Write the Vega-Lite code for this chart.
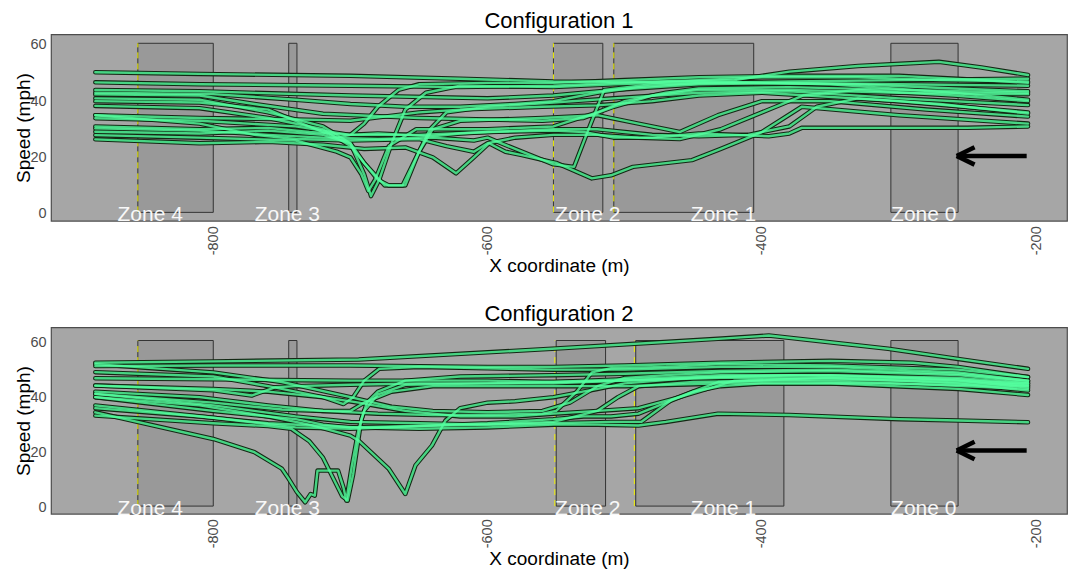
{
  "$schema": "https://vega.github.io/schema/vega-lite/v6.json",
  "padding": {"left": 13, "top": 9.3, "right": 0, "bottom": 0},
  "spacing": 25,
  "config": {
    "font": "Liberation Sans",
    "view": {"stroke": "#4d4d4d", "strokeWidth": 1.2, "fill": "#a6a6a6"},
    "axis": {"domain": false, "grid": false, "ticks": false, "labelColor": "#4d4d4d", "labelFontSize": 14.5, "titleFontSize": 19, "titleFontWeight": "normal", "titleColor": "black", "labelFont": "Liberation Sans", "titleFont": "Liberation Sans", "labelPadding": 5, "labelExpr": "'' + datum.value"},
    "title": {"fontSize": 22, "fontWeight": "normal", "font": "Liberation Sans", "color": "black", "offset": 1}
  },
  "datasets": {
    "zones": [
      {"p":1,"zone":"Zone 4","x1":-855,"x2":-800,"y1":0.4,"y2":60.6},
      {"p":1,"zone":"Zone 3","x1":-745,"x2":-739,"y1":0.4,"y2":60.6},
      {"p":1,"zone":"Zone 2","x1":-552,"x2":-516,"y1":0.4,"y2":60.6},
      {"p":1,"zone":"Zone 1","x1":-508,"x2":-406,"y1":0.4,"y2":60.6},
      {"p":1,"zone":"Zone 0","x1":-306,"x2":-257,"y1":0.4,"y2":60.6},
      {"p":2,"zone":"Zone 4","x1":-855,"x2":-800,"y1":0.4,"y2":60.6},
      {"p":2,"zone":"Zone 3","x1":-745,"x2":-739,"y1":0.4,"y2":60.6},
      {"p":2,"zone":"Zone 2","x1":-550,"x2":-514,"y1":0.4,"y2":60.6},
      {"p":2,"zone":"Zone 1","x1":-492,"x2":-384,"y1":0.4,"y2":60.6},
      {"p":2,"zone":"Zone 0","x1":-306,"x2":-257,"y1":0.4,"y2":60.6}
    ],
    "gates": [
      {"p":1,"x":-855,"y1":0.4,"y2":60.6},
      {"p":1,"x":-552,"y1":0.4,"y2":60.6},
      {"p":1,"x":-508,"y1":0.4,"y2":60.6},
      {"p":2,"x":-855,"y1":0.4,"y2":60.6},
      {"p":2,"x":-551,"y1":0.4,"y2":60.6},
      {"p":2,"x":-493,"y1":0.4,"y2":60.6}
    ],
    "labels": [
      {"p":1,"label":"Zone 4","x":-846,"y":0},
      {"p":1,"label":"Zone 3","x":-746,"y":0},
      {"p":1,"label":"Zone 2","x":-527,"y":0},
      {"p":1,"label":"Zone 1","x":-428,"y":0},
      {"p":1,"label":"Zone 0","x":-282,"y":0},
      {"p":2,"label":"Zone 4","x":-846,"y":0},
      {"p":2,"label":"Zone 3","x":-746,"y":0},
      {"p":2,"label":"Zone 2","x":-527,"y":0},
      {"p":2,"label":"Zone 1","x":-428,"y":0},
      {"p":2,"label":"Zone 0","x":-282,"y":0}
    ],
    "arrows": [
      {"p":1,"x":-207,"y":20.5,"x2":-258,"y2":20.5},
      {"p":1,"x":-258,"y":20.5,"x2":-245,"y2":23.6},
      {"p":1,"x":-258,"y":20.5,"x2":-245,"y2":17.4},
      {"p":2,"x":-207,"y":20.6,"x2":-258,"y2":20.6},
      {"p":2,"x":-258,"y":20.6,"x2":-245,"y2":23.8},
      {"p":2,"x":-258,"y":20.6,"x2":-245,"y2":17.4}
    ],
    "lines": [
      {"p":1,"id":"A1","x":-886,"y":50.3},{"p":1,"id":"A1","x":-810,"y":49.7},{"p":1,"id":"A1","x":-700,"y":49},{"p":1,"id":"A1","x":-620,"y":48},{"p":1,"id":"A1","x":-552,"y":47},{"p":1,"id":"A1","x":-480,"y":46.8},{"p":1,"id":"A1","x":-420,"y":47.5},{"p":1,"id":"A1","x":-380,"y":50.5},{"p":1,"id":"A1","x":-330,"y":52.5},{"p":1,"id":"A1","x":-271,"y":54},{"p":1,"id":"A1","x":-240,"y":52},{"p":1,"id":"A1","x":-206,"y":49.3},
      {"p":1,"id":"A2","x":-886,"y":46.7},{"p":1,"id":"A2","x":-810,"y":46},{"p":1,"id":"A2","x":-700,"y":45.5},{"p":1,"id":"A2","x":-620,"y":45},{"p":1,"id":"A2","x":-552,"y":45.5},{"p":1,"id":"A2","x":-508,"y":46.5},{"p":1,"id":"A2","x":-446,"y":47.5},{"p":1,"id":"A2","x":-400,"y":48.5},{"p":1,"id":"A2","x":-330,"y":48.5},{"p":1,"id":"A2","x":-270,"y":47.5},{"p":1,"id":"A2","x":-206,"y":47},
      {"p":1,"id":"A3","x":-886,"y":44},{"p":1,"id":"A3","x":-810,"y":43.5},{"p":1,"id":"A3","x":-700,"y":42},{"p":1,"id":"A3","x":-600,"y":41},{"p":1,"id":"A3","x":-552,"y":42},{"p":1,"id":"A3","x":-508,"y":44},{"p":1,"id":"A3","x":-446,"y":46},{"p":1,"id":"A3","x":-380,"y":46.5},{"p":1,"id":"A3","x":-300,"y":46},{"p":1,"id":"A3","x":-206,"y":45.5},
      {"p":1,"id":"A4","x":-886,"y":42.4},{"p":1,"id":"A4","x":-810,"y":42},{"p":1,"id":"A4","x":-770,"y":39},{"p":1,"id":"A4","x":-720,"y":35.5},{"p":1,"id":"A4","x":-650,"y":34},{"p":1,"id":"A4","x":-560,"y":33},{"p":1,"id":"A4","x":-530,"y":34},{"p":1,"id":"A4","x":-508,"y":38},{"p":1,"id":"A4","x":-480,"y":42},{"p":1,"id":"A4","x":-446,"y":44},{"p":1,"id":"A4","x":-380,"y":44},{"p":1,"id":"A4","x":-300,"y":43},{"p":1,"id":"A4","x":-206,"y":42.5},
      {"p":1,"id":"A5","x":-886,"y":41},{"p":1,"id":"A5","x":-810,"y":40.5},{"p":1,"id":"A5","x":-760,"y":36},{"p":1,"id":"A5","x":-720,"y":31},{"p":1,"id":"A5","x":-700,"y":25},{"p":1,"id":"A5","x":-690,"y":14},{"p":1,"id":"A5","x":-685,"y":6.2},{"p":1,"id":"A5","x":-679,"y":12},{"p":1,"id":"A5","x":-670,"y":25},{"p":1,"id":"A5","x":-660,"y":37},{"p":1,"id":"A5","x":-645,"y":43},{"p":1,"id":"A5","x":-620,"y":45.5},{"p":1,"id":"A5","x":-552,"y":45},{"p":1,"id":"A5","x":-508,"y":46},{"p":1,"id":"A5","x":-446,"y":47},{"p":1,"id":"A5","x":-350,"y":46},{"p":1,"id":"A5","x":-260,"y":43},{"p":1,"id":"A5","x":-206,"y":40.5},
      {"p":1,"id":"A6","x":-886,"y":38.3},{"p":1,"id":"A6","x":-810,"y":37.5},{"p":1,"id":"A6","x":-760,"y":34},{"p":1,"id":"A6","x":-720,"y":30},{"p":1,"id":"A6","x":-700,"y":24},{"p":1,"id":"A6","x":-690,"y":18},{"p":1,"id":"A6","x":-675,"y":10},{"p":1,"id":"A6","x":-662,"y":10},{"p":1,"id":"A6","x":-652,"y":20},{"p":1,"id":"A6","x":-642,"y":30},{"p":1,"id":"A6","x":-630,"y":36},{"p":1,"id":"A6","x":-600,"y":38},{"p":1,"id":"A6","x":-552,"y":39.5},{"p":1,"id":"A6","x":-508,"y":41},{"p":1,"id":"A6","x":-446,"y":43},{"p":1,"id":"A6","x":-380,"y":43.5},{"p":1,"id":"A6","x":-300,"y":41},{"p":1,"id":"A6","x":-206,"y":38.6},
      {"p":1,"id":"A7","x":-886,"y":35},{"p":1,"id":"A7","x":-810,"y":34},{"p":1,"id":"A7","x":-740,"y":33.5},{"p":1,"id":"A7","x":-700,"y":33},{"p":1,"id":"A7","x":-650,"y":36},{"p":1,"id":"A7","x":-620,"y":37},{"p":1,"id":"A7","x":-560,"y":38},{"p":1,"id":"A7","x":-520,"y":38.5},{"p":1,"id":"A7","x":-480,"y":40},{"p":1,"id":"A7","x":-446,"y":42},{"p":1,"id":"A7","x":-400,"y":43},{"p":1,"id":"A7","x":-300,"y":40},{"p":1,"id":"A7","x":-206,"y":36},
      {"p":1,"id":"A8","x":-886,"y":33.9},{"p":1,"id":"A8","x":-810,"y":33},{"p":1,"id":"A8","x":-740,"y":31},{"p":1,"id":"A8","x":-700,"y":28},{"p":1,"id":"A8","x":-650,"y":28},{"p":1,"id":"A8","x":-600,"y":29},{"p":1,"id":"A8","x":-552,"y":30},{"p":1,"id":"A8","x":-520,"y":30},{"p":1,"id":"A8","x":-480,"y":28},{"p":1,"id":"A8","x":-446,"y":27.5},{"p":1,"id":"A8","x":-410,"y":28},{"p":1,"id":"A8","x":-380,"y":31},{"p":1,"id":"A8","x":-360,"y":38},{"p":1,"id":"A8","x":-330,"y":41},{"p":1,"id":"A8","x":-270,"y":39},{"p":1,"id":"A8","x":-206,"y":35.6},
      {"p":1,"id":"A9","x":-886,"y":26.4},{"p":1,"id":"A9","x":-810,"y":25},{"p":1,"id":"A9","x":-760,"y":25.5},{"p":1,"id":"A9","x":-720,"y":24.5},{"p":1,"id":"A9","x":-690,"y":23},{"p":1,"id":"A9","x":-660,"y":23.5},{"p":1,"id":"A9","x":-640,"y":20},{"p":1,"id":"A9","x":-623,"y":14.3},{"p":1,"id":"A9","x":-610,"y":20},{"p":1,"id":"A9","x":-599,"y":25},{"p":1,"id":"A9","x":-587,"y":22},{"p":1,"id":"A9","x":-575,"y":20.8},{"p":1,"id":"A9","x":-550,"y":18},{"p":1,"id":"A9","x":-524,"y":12.5},{"p":1,"id":"A9","x":-510,"y":13.6},{"p":1,"id":"A9","x":-494,"y":16.6},{"p":1,"id":"A9","x":-451,"y":19},{"p":1,"id":"A9","x":-430,"y":23},{"p":1,"id":"A9","x":-400,"y":29},{"p":1,"id":"A9","x":-371,"y":38},{"p":1,"id":"A9","x":-300,"y":35},{"p":1,"id":"A9","x":-206,"y":32},
      {"p":1,"id":"A10","x":-886,"y":29.1},{"p":1,"id":"A10","x":-810,"y":28.5},{"p":1,"id":"A10","x":-760,"y":29.5},{"p":1,"id":"A10","x":-720,"y":28},{"p":1,"id":"A10","x":-700,"y":25},{"p":1,"id":"A10","x":-690,"y":18},{"p":1,"id":"A10","x":-680,"y":12},{"p":1,"id":"A10","x":-672,"y":10},{"p":1,"id":"A10","x":-660,"y":10},{"p":1,"id":"A10","x":-650,"y":22},{"p":1,"id":"A10","x":-640,"y":30},{"p":1,"id":"A10","x":-620,"y":33},{"p":1,"id":"A10","x":-560,"y":34},{"p":1,"id":"A10","x":-520,"y":35},{"p":1,"id":"A10","x":-490,"y":32},{"p":1,"id":"A10","x":-460,"y":29},{"p":1,"id":"A10","x":-432,"y":35},{"p":1,"id":"A10","x":-400,"y":40},{"p":1,"id":"A10","x":-350,"y":40},{"p":1,"id":"A10","x":-280,"y":37},{"p":1,"id":"A10","x":-206,"y":34.5},
      {"p":1,"id":"A11","x":-886,"y":30.3},{"p":1,"id":"A11","x":-810,"y":29.5},{"p":1,"id":"A11","x":-760,"y":28},{"p":1,"id":"A11","x":-720,"y":27},{"p":1,"id":"A11","x":-680,"y":26.5},{"p":1,"id":"A11","x":-640,"y":27},{"p":1,"id":"A11","x":-610,"y":26},{"p":1,"id":"A11","x":-600,"y":27},{"p":1,"id":"A11","x":-575,"y":22},{"p":1,"id":"A11","x":-552,"y":17.5},{"p":1,"id":"A11","x":-537,"y":16.6},{"p":1,"id":"A11","x":-528,"y":28},{"p":1,"id":"A11","x":-515,"y":44},{"p":1,"id":"A11","x":-480,"y":46},{"p":1,"id":"A11","x":-420,"y":46.5},{"p":1,"id":"A11","x":-330,"y":46},{"p":1,"id":"A11","x":-260,"y":44.5},{"p":1,"id":"A11","x":-206,"y":43.5},
      {"p":1,"id":"A12","x":-886,"y":27.9},{"p":1,"id":"A12","x":-810,"y":27},{"p":1,"id":"A12","x":-740,"y":26},{"p":1,"id":"A12","x":-710,"y":22},{"p":1,"id":"A12","x":-700,"y":20},{"p":1,"id":"A12","x":-692,"y":14},{"p":1,"id":"A12","x":-687,"y":8},{"p":1,"id":"A12","x":-682,"y":12},{"p":1,"id":"A12","x":-672,"y":24},{"p":1,"id":"A12","x":-652,"y":30},{"p":1,"id":"A12","x":-600,"y":30},{"p":1,"id":"A12","x":-552,"y":31},{"p":1,"id":"A12","x":-520,"y":36},{"p":1,"id":"A12","x":-500,"y":40},{"p":1,"id":"A12","x":-470,"y":43},{"p":1,"id":"A12","x":-446,"y":44.5},{"p":1,"id":"A12","x":-380,"y":45},{"p":1,"id":"A12","x":-300,"y":44},{"p":1,"id":"A12","x":-206,"y":43},
      {"p":1,"id":"A13","x":-886,"y":35},{"p":1,"id":"A13","x":-810,"y":32},{"p":1,"id":"A13","x":-770,"y":28},{"p":1,"id":"A13","x":-740,"y":26.5},{"p":1,"id":"A13","x":-700,"y":26},{"p":1,"id":"A13","x":-650,"y":26.5},{"p":1,"id":"A13","x":-630,"y":24},{"p":1,"id":"A13","x":-610,"y":22},{"p":1,"id":"A13","x":-600,"y":25},{"p":1,"id":"A13","x":-580,"y":27},{"p":1,"id":"A13","x":-552,"y":28},{"p":1,"id":"A13","x":-520,"y":28},{"p":1,"id":"A13","x":-490,"y":27},{"p":1,"id":"A13","x":-460,"y":26.5},{"p":1,"id":"A13","x":-430,"y":30},{"p":1,"id":"A13","x":-400,"y":36},{"p":1,"id":"A13","x":-370,"y":42},{"p":1,"id":"A13","x":-330,"y":44},{"p":1,"id":"A13","x":-260,"y":42},{"p":1,"id":"A13","x":-206,"y":40},
      {"p":1,"id":"A14","x":-886,"y":40},{"p":1,"id":"A14","x":-810,"y":39.5},{"p":1,"id":"A14","x":-760,"y":37},{"p":1,"id":"A14","x":-740,"y":33},{"p":1,"id":"A14","x":-720,"y":29},{"p":1,"id":"A14","x":-710,"y":27},{"p":1,"id":"A14","x":-700,"y":28},{"p":1,"id":"A14","x":-690,"y":32},{"p":1,"id":"A14","x":-680,"y":38},{"p":1,"id":"A14","x":-665,"y":44},{"p":1,"id":"A14","x":-650,"y":46},{"p":1,"id":"A14","x":-600,"y":46.5},{"p":1,"id":"A14","x":-552,"y":46.5},{"p":1,"id":"A14","x":-500,"y":47.5},{"p":1,"id":"A14","x":-446,"y":48.5},{"p":1,"id":"A14","x":-380,"y":49},{"p":1,"id":"A14","x":-300,"y":49},{"p":1,"id":"A14","x":-240,"y":47.5},{"p":1,"id":"A14","x":-206,"y":46.5},
      {"p":1,"id":"A15","x":-886,"y":31},{"p":1,"id":"A15","x":-810,"y":30},{"p":1,"id":"A15","x":-760,"y":30.5},{"p":1,"id":"A15","x":-730,"y":29},{"p":1,"id":"A15","x":-700,"y":28},{"p":1,"id":"A15","x":-680,"y":28.5},{"p":1,"id":"A15","x":-660,"y":28},{"p":1,"id":"A15","x":-640,"y":27.5},{"p":1,"id":"A15","x":-620,"y":28.5},{"p":1,"id":"A15","x":-600,"y":29},{"p":1,"id":"A15","x":-552,"y":29.5},{"p":1,"id":"A15","x":-530,"y":29},{"p":1,"id":"A15","x":-508,"y":27},{"p":1,"id":"A15","x":-480,"y":27},{"p":1,"id":"A15","x":-446,"y":28.5},{"p":1,"id":"A15","x":-420,"y":28},{"p":1,"id":"A15","x":-395,"y":27.5},{"p":1,"id":"A15","x":-380,"y":28.5},{"p":1,"id":"A15","x":-371,"y":30.5},{"p":1,"id":"A15","x":-300,"y":30.5},{"p":1,"id":"A15","x":-250,"y":30.5},{"p":1,"id":"A15","x":-206,"y":31},
      {"p":1,"id":"A16","x":-886,"y":43},{"p":1,"id":"A16","x":-800,"y":42.5},{"p":1,"id":"A16","x":-740,"y":40.5},{"p":1,"id":"A16","x":-700,"y":39},{"p":1,"id":"A16","x":-660,"y":38},{"p":1,"id":"A16","x":-620,"y":38},{"p":1,"id":"A16","x":-580,"y":39},{"p":1,"id":"A16","x":-552,"y":40},{"p":1,"id":"A16","x":-520,"y":43},{"p":1,"id":"A16","x":-490,"y":45},{"p":1,"id":"A16","x":-446,"y":46.5},{"p":1,"id":"A16","x":-380,"y":47},{"p":1,"id":"A16","x":-300,"y":47.5},{"p":1,"id":"A16","x":-206,"y":48},

      {"p":2,"id":"B1","x":-886,"y":52.5},{"p":2,"id":"B1","x":-800,"y":53},{"p":2,"id":"B1","x":-694,"y":53.7},{"p":2,"id":"B1","x":-553,"y":57.6},{"p":2,"id":"B1","x":-432,"y":61.2},{"p":2,"id":"B1","x":-395,"y":62.4},{"p":2,"id":"B1","x":-308,"y":57.6},{"p":2,"id":"B1","x":-257,"y":53.9},{"p":2,"id":"B1","x":-206,"y":50.3},
      {"p":2,"id":"B2","x":-886,"y":51.3},{"p":2,"id":"B2","x":-800,"y":51.5},{"p":2,"id":"B2","x":-700,"y":51.5},{"p":2,"id":"B2","x":-600,"y":51},{"p":2,"id":"B2","x":-552,"y":51},{"p":2,"id":"B2","x":-500,"y":51.5},{"p":2,"id":"B2","x":-430,"y":52.5},{"p":2,"id":"B2","x":-350,"y":53.2},{"p":2,"id":"B2","x":-290,"y":52.5},{"p":2,"id":"B2","x":-257,"y":51},{"p":2,"id":"B2","x":-206,"y":47.3},
      {"p":2,"id":"B3","x":-886,"y":49.1},{"p":2,"id":"B3","x":-800,"y":47.5},{"p":2,"id":"B3","x":-760,"y":44},{"p":2,"id":"B3","x":-720,"y":40},{"p":2,"id":"B3","x":-705,"y":37.5},{"p":2,"id":"B3","x":-698,"y":40},{"p":2,"id":"B3","x":-690,"y":46},{"p":2,"id":"B3","x":-679,"y":50.3},{"p":2,"id":"B3","x":-650,"y":51},{"p":2,"id":"B3","x":-600,"y":50.5},{"p":2,"id":"B3","x":-552,"y":50},{"p":2,"id":"B3","x":-500,"y":50},{"p":2,"id":"B3","x":-430,"y":51},{"p":2,"id":"B3","x":-350,"y":51},{"p":2,"id":"B3","x":-257,"y":49},{"p":2,"id":"B3","x":-206,"y":46},
      {"p":2,"id":"B4","x":-886,"y":46.9},{"p":2,"id":"B4","x":-800,"y":46.5},{"p":2,"id":"B4","x":-700,"y":46},{"p":2,"id":"B4","x":-600,"y":46},{"p":2,"id":"B4","x":-552,"y":45.5},{"p":2,"id":"B4","x":-500,"y":46.5},{"p":2,"id":"B4","x":-430,"y":48},{"p":2,"id":"B4","x":-350,"y":48},{"p":2,"id":"B4","x":-257,"y":46.5},{"p":2,"id":"B4","x":-206,"y":44.2},
      {"p":2,"id":"B5","x":-886,"y":44.2},{"p":2,"id":"B5","x":-800,"y":42.5},{"p":2,"id":"B5","x":-772,"y":40.6},{"p":2,"id":"B5","x":-755,"y":43.6},{"p":2,"id":"B5","x":-740,"y":44},{"p":2,"id":"B5","x":-700,"y":44.5},{"p":2,"id":"B5","x":-650,"y":45},{"p":2,"id":"B5","x":-600,"y":45},{"p":2,"id":"B5","x":-552,"y":45},{"p":2,"id":"B5","x":-500,"y":46},{"p":2,"id":"B5","x":-430,"y":47},{"p":2,"id":"B5","x":-350,"y":47},{"p":2,"id":"B5","x":-257,"y":45},{"p":2,"id":"B5","x":-206,"y":42.4},
      {"p":2,"id":"B6","x":-886,"y":41.2},{"p":2,"id":"B6","x":-800,"y":38},{"p":2,"id":"B6","x":-750,"y":35.5},{"p":2,"id":"B6","x":-720,"y":35},{"p":2,"id":"B6","x":-700,"y":35},{"p":2,"id":"B6","x":-690,"y":38},{"p":2,"id":"B6","x":-670,"y":42},{"p":2,"id":"B6","x":-640,"y":44},{"p":2,"id":"B6","x":-600,"y":44},{"p":2,"id":"B6","x":-552,"y":44},{"p":2,"id":"B6","x":-500,"y":44},{"p":2,"id":"B6","x":-430,"y":45},{"p":2,"id":"B6","x":-350,"y":45},{"p":2,"id":"B6","x":-257,"y":43},{"p":2,"id":"B6","x":-206,"y":40.8},
      {"p":2,"id":"B7","x":-886,"y":40},{"p":2,"id":"B7","x":-800,"y":35},{"p":2,"id":"B7","x":-740,"y":32},{"p":2,"id":"B7","x":-720,"y":30},{"p":2,"id":"B7","x":-700,"y":29},{"p":2,"id":"B7","x":-650,"y":29.5},{"p":2,"id":"B7","x":-600,"y":30},{"p":2,"id":"B7","x":-552,"y":31},{"p":2,"id":"B7","x":-520,"y":35},{"p":2,"id":"B7","x":-505,"y":40},{"p":2,"id":"B7","x":-490,"y":44},{"p":2,"id":"B7","x":-450,"y":45.5},{"p":2,"id":"B7","x":-380,"y":46},{"p":2,"id":"B7","x":-300,"y":45},{"p":2,"id":"B7","x":-206,"y":43},
      {"p":2,"id":"B8","x":-886,"y":34.5},{"p":2,"id":"B8","x":-800,"y":24.8},{"p":2,"id":"B8","x":-770,"y":20},{"p":2,"id":"B8","x":-750,"y":14},{"p":2,"id":"B8","x":-745,"y":10.3},{"p":2,"id":"B8","x":-739,"y":5.5},{"p":2,"id":"B8","x":-733,"y":1.8},{"p":2,"id":"B8","x":-729,"y":4.8},{"p":2,"id":"B8","x":-726,"y":4.2},{"p":2,"id":"B8","x":-724,"y":13.3},{"p":2,"id":"B8","x":-709,"y":13.3},{"p":2,"id":"B8","x":-705,"y":7},{"p":2,"id":"B8","x":-703,"y":2.4},{"p":2,"id":"B8","x":-699,"y":15},{"p":2,"id":"B8","x":-694,"y":28.5},{"p":2,"id":"B8","x":-690,"y":35},{"p":2,"id":"B8","x":-680,"y":41},{"p":2,"id":"B8","x":-660,"y":44.5},{"p":2,"id":"B8","x":-600,"y":45},{"p":2,"id":"B8","x":-552,"y":45.5},{"p":2,"id":"B8","x":-500,"y":46},{"p":2,"id":"B8","x":-430,"y":47.5},{"p":2,"id":"B8","x":-350,"y":48},{"p":2,"id":"B8","x":-257,"y":47},{"p":2,"id":"B8","x":-206,"y":45},
      {"p":2,"id":"B10","x":-886,"y":33.3},{"p":2,"id":"B10","x":-800,"y":30.5},{"p":2,"id":"B10","x":-760,"y":29.5},{"p":2,"id":"B10","x":-743,"y":28.5},{"p":2,"id":"B10","x":-730,"y":24},{"p":2,"id":"B10","x":-720,"y":18},{"p":2,"id":"B10","x":-712,"y":10},{"p":2,"id":"B10","x":-706,"y":4},{"p":2,"id":"B10","x":-702,"y":2.4},{"p":2,"id":"B10","x":-698,"y":12},{"p":2,"id":"B10","x":-695,"y":22},{"p":2,"id":"B10","x":-692,"y":32},{"p":2,"id":"B10","x":-688,"y":38},{"p":2,"id":"B10","x":-680,"y":42},{"p":2,"id":"B10","x":-660,"y":46},{"p":2,"id":"B10","x":-620,"y":47.5},{"p":2,"id":"B10","x":-552,"y":48},{"p":2,"id":"B10","x":-500,"y":48.5},{"p":2,"id":"B10","x":-430,"y":49.5},{"p":2,"id":"B10","x":-350,"y":50},{"p":2,"id":"B10","x":-257,"y":48.5},{"p":2,"id":"B10","x":-206,"y":46},
      {"p":2,"id":"B11","x":-886,"y":40},{"p":2,"id":"B11","x":-810,"y":37},{"p":2,"id":"B11","x":-760,"y":33},{"p":2,"id":"B11","x":-730,"y":30},{"p":2,"id":"B11","x":-700,"y":26},{"p":2,"id":"B11","x":-694,"y":24.2},{"p":2,"id":"B11","x":-672,"y":13.9},{"p":2,"id":"B11","x":-660,"y":4.8},{"p":2,"id":"B11","x":-652.6,"y":15.2},{"p":2,"id":"B11","x":-640.6,"y":22.4},{"p":2,"id":"B11","x":-630.7,"y":31.5},{"p":2,"id":"B11","x":-620,"y":36},{"p":2,"id":"B11","x":-600,"y":38},{"p":2,"id":"B11","x":-580,"y":38.5},{"p":2,"id":"B11","x":-552,"y":40},{"p":2,"id":"B11","x":-520,"y":43},{"p":2,"id":"B11","x":-500,"y":45},{"p":2,"id":"B11","x":-450,"y":47},{"p":2,"id":"B11","x":-380,"y":48},{"p":2,"id":"B11","x":-300,"y":47},{"p":2,"id":"B11","x":-206,"y":45},
      {"p":2,"id":"B12","x":-886,"y":36},{"p":2,"id":"B12","x":-810,"y":33},{"p":2,"id":"B12","x":-760,"y":30.5},{"p":2,"id":"B12","x":-720,"y":29.5},{"p":2,"id":"B12","x":-694,"y":29},{"p":2,"id":"B12","x":-650,"y":28.5},{"p":2,"id":"B12","x":-600,"y":29},{"p":2,"id":"B12","x":-552,"y":30},{"p":2,"id":"B12","x":-520,"y":30},{"p":2,"id":"B12","x":-490,"y":29.7},{"p":2,"id":"B12","x":-470,"y":31},{"p":2,"id":"B12","x":-432,"y":34},{"p":2,"id":"B12","x":-380,"y":33.5},{"p":2,"id":"B12","x":-300,"y":32},{"p":2,"id":"B12","x":-257,"y":31.5},{"p":2,"id":"B12","x":-206,"y":30.9},
      {"p":2,"id":"B13","x":-886,"y":37},{"p":2,"id":"B13","x":-800,"y":32.5},{"p":2,"id":"B13","x":-740,"y":29},{"p":2,"id":"B13","x":-700,"y":28.5},{"p":2,"id":"B13","x":-650,"y":29.5},{"p":2,"id":"B13","x":-600,"y":30.5},{"p":2,"id":"B13","x":-552,"y":32},{"p":2,"id":"B13","x":-530,"y":33},{"p":2,"id":"B13","x":-510,"y":33},{"p":2,"id":"B13","x":-490,"y":34},{"p":2,"id":"B13","x":-470,"y":38},{"p":2,"id":"B13","x":-450,"y":42},{"p":2,"id":"B13","x":-430,"y":44},{"p":2,"id":"B13","x":-400,"y":45},{"p":2,"id":"B13","x":-320,"y":45},{"p":2,"id":"B13","x":-206,"y":44},
      {"p":2,"id":"B14","x":-886,"y":42},{"p":2,"id":"B14","x":-810,"y":40},{"p":2,"id":"B14","x":-760,"y":37},{"p":2,"id":"B14","x":-720,"y":35},{"p":2,"id":"B14","x":-680,"y":34},{"p":2,"id":"B14","x":-640,"y":33.5},{"p":2,"id":"B14","x":-600,"y":33.5},{"p":2,"id":"B14","x":-560,"y":34},{"p":2,"id":"B14","x":-550,"y":35},{"p":2,"id":"B14","x":-535,"y":42},{"p":2,"id":"B14","x":-524,"y":49},{"p":2,"id":"B14","x":-510,"y":50.5},{"p":2,"id":"B14","x":-470,"y":51},{"p":2,"id":"B14","x":-430,"y":52},{"p":2,"id":"B14","x":-350,"y":51.5},{"p":2,"id":"B14","x":-257,"y":50},{"p":2,"id":"B14","x":-206,"y":47.3},
      {"p":2,"id":"B15","x":-886,"y":41.2},{"p":2,"id":"B15","x":-800,"y":37},{"p":2,"id":"B15","x":-740,"y":33},{"p":2,"id":"B15","x":-700,"y":31},{"p":2,"id":"B15","x":-650,"y":30.5},{"p":2,"id":"B15","x":-600,"y":30},{"p":2,"id":"B15","x":-552,"y":30.5},{"p":2,"id":"B15","x":-510,"y":31},{"p":2,"id":"B15","x":-488,"y":31},{"p":2,"id":"B15","x":-466,"y":39},{"p":2,"id":"B15","x":-432,"y":45.5},{"p":2,"id":"B15","x":-380,"y":46.5},{"p":2,"id":"B15","x":-300,"y":46},{"p":2,"id":"B15","x":-206,"y":44.5},
      {"p":2,"id":"B16","x":-886,"y":44.2},{"p":2,"id":"B16","x":-800,"y":43},{"p":2,"id":"B16","x":-760,"y":42},{"p":2,"id":"B16","x":-720,"y":40},{"p":2,"id":"B16","x":-694,"y":38},{"p":2,"id":"B16","x":-660,"y":35},{"p":2,"id":"B16","x":-620,"y":33},{"p":2,"id":"B16","x":-580,"y":33},{"p":2,"id":"B16","x":-552,"y":34},{"p":2,"id":"B16","x":-520,"y":35},{"p":2,"id":"B16","x":-490,"y":36},{"p":2,"id":"B16","x":-460,"y":40},{"p":2,"id":"B16","x":-440,"y":43},{"p":2,"id":"B16","x":-420,"y":46},{"p":2,"id":"B16","x":-350,"y":47},{"p":2,"id":"B16","x":-257,"y":46},{"p":2,"id":"B16","x":-206,"y":43.5},
      {"p":2,"id":"B17","x":-886,"y":52},{"p":2,"id":"B17","x":-800,"y":49},{"p":2,"id":"B17","x":-750,"y":45.5},{"p":2,"id":"B17","x":-700,"y":40},{"p":2,"id":"B17","x":-670,"y":36.5},{"p":2,"id":"B17","x":-640,"y":35},{"p":2,"id":"B17","x":-600,"y":34.5},{"p":2,"id":"B17","x":-560,"y":35},{"p":2,"id":"B17","x":-540,"y":38},{"p":2,"id":"B17","x":-520,"y":44},{"p":2,"id":"B17","x":-500,"y":47},{"p":2,"id":"B17","x":-470,"y":48},{"p":2,"id":"B17","x":-430,"y":49},{"p":2,"id":"B17","x":-350,"y":49.5},{"p":2,"id":"B17","x":-257,"y":48},{"p":2,"id":"B17","x":-206,"y":45.5}
    ]
  },
  "vconcat": [
    {
      "title": "Configuration 1",
      "width": 1016,
      "height": 186.5,
      "encoding": {
        "x": {"type": "quantitative", "scale": {"domain": [-918.3, -177.6], "nice": false, "zero": false}, "axis": {"title": "X coordinate (m)", "values": [-800, -600, -400, -200], "labelAngle": -90, "titlePadding": 2}},
        "y": {"type": "quantitative", "scale": {"domain": [-2.6, 63.8], "nice": false, "zero": false}, "axis": {"title": "Speed (mph)", "values": [0, 20, 40, 60], "titlePadding": -3.5}}
      },
      "layer": [
        {"data": {"name": "zones"}, "transform": [{"filter": "datum.p == 1"}], "mark": {"type": "rect", "fill": "#999999", "stroke": "#333333", "strokeWidth": 1}, "encoding": {"x": {"field": "x1", "type": "quantitative"}, "x2": {"field": "x2"}, "y": {"field": "y1", "type": "quantitative"}, "y2": {"field": "y2"}}},
        {"data": {"name": "gates"}, "transform": [{"filter": "datum.p == 1"}], "mark": {"type": "rule", "color": "#f2f200", "strokeWidth": 1, "strokeDash": [6, 5]}, "encoding": {"x": {"field": "x", "type": "quantitative"}, "y": {"field": "y1", "type": "quantitative"}, "y2": {"field": "y2"}}},
        {"data": {"name": "labels"}, "transform": [{"filter": "datum.p == 1"}], "mark": {"type": "text", "color": "#f8f8f8", "fontSize": 21, "baseline": "alphabetic", "dy": 7.5, "align": "center"}, "encoding": {"x": {"field": "x", "type": "quantitative"}, "y": {"field": "y", "type": "quantitative"}, "text": {"field": "label"}}},
        {"data": {"name": "lines"}, "transform": [{"filter": "datum.p == 1"}], "mark": {"type": "line", "color": "#142814", "strokeWidth": 4.5, "strokeJoin": "round", "strokeCap": "round"}, "encoding": {"x": {"field": "x", "type": "quantitative"}, "y": {"field": "y", "type": "quantitative"}, "detail": {"field": "id"}}},
        {"data": {"name": "lines"}, "transform": [{"filter": "datum.p == 1"}], "mark": {"type": "line", "color": "#54FF9F", "opacity": 0.8, "strokeWidth": 2.4, "strokeJoin": "round", "strokeCap": "round"}, "encoding": {"x": {"field": "x", "type": "quantitative"}, "y": {"field": "y", "type": "quantitative"}, "detail": {"field": "id"}}},
        {"data": {"name": "arrows"}, "transform": [{"filter": "datum.p == 1"}], "mark": {"type": "rule", "color": "black", "strokeWidth": 4.5, "strokeCap": "butt"}, "encoding": {"x": {"field": "x", "type": "quantitative"}, "y": {"field": "y", "type": "quantitative"}, "x2": {"field": "x2"}, "y2": {"field": "y2"}}}
      ]
    },
    {
      "title": "Configuration 2",
      "width": 1016,
      "height": 186.5,
      "encoding": {
        "x": {"type": "quantitative", "scale": {"domain": [-918.3, -177.6], "nice": false, "zero": false}, "axis": {"title": "X coordinate (m)", "values": [-800, -600, -400, -200], "labelAngle": -90, "titlePadding": 2}},
        "y": {"type": "quantitative", "scale": {"domain": [-2.4, 65.4], "nice": false, "zero": false}, "axis": {"title": "Speed (mph)", "values": [0, 20, 40, 60], "titlePadding": -3.5}}
      },
      "layer": [
        {"data": {"name": "zones"}, "transform": [{"filter": "datum.p == 2"}], "mark": {"type": "rect", "fill": "#999999", "stroke": "#333333", "strokeWidth": 1}, "encoding": {"x": {"field": "x1", "type": "quantitative"}, "x2": {"field": "x2"}, "y": {"field": "y1", "type": "quantitative"}, "y2": {"field": "y2"}}},
        {"data": {"name": "gates"}, "transform": [{"filter": "datum.p == 2"}], "mark": {"type": "rule", "color": "#f2f200", "strokeWidth": 1, "strokeDash": [6, 5]}, "encoding": {"x": {"field": "x", "type": "quantitative"}, "y": {"field": "y1", "type": "quantitative"}, "y2": {"field": "y2"}}},
        {"data": {"name": "labels"}, "transform": [{"filter": "datum.p == 2"}], "mark": {"type": "text", "color": "#f8f8f8", "fontSize": 21, "baseline": "alphabetic", "dy": 7.5, "align": "center"}, "encoding": {"x": {"field": "x", "type": "quantitative"}, "y": {"field": "y", "type": "quantitative"}, "text": {"field": "label"}}},
        {"data": {"name": "lines"}, "transform": [{"filter": "datum.p == 2"}], "mark": {"type": "line", "color": "#142814", "strokeWidth": 4.5, "strokeJoin": "round", "strokeCap": "round"}, "encoding": {"x": {"field": "x", "type": "quantitative"}, "y": {"field": "y", "type": "quantitative"}, "detail": {"field": "id"}}},
        {"data": {"name": "lines"}, "transform": [{"filter": "datum.p == 2"}], "mark": {"type": "line", "color": "#54FF9F", "opacity": 0.8, "strokeWidth": 2.4, "strokeJoin": "round", "strokeCap": "round"}, "encoding": {"x": {"field": "x", "type": "quantitative"}, "y": {"field": "y", "type": "quantitative"}, "detail": {"field": "id"}}},
        {"data": {"name": "arrows"}, "transform": [{"filter": "datum.p == 2"}], "mark": {"type": "rule", "color": "black", "strokeWidth": 4.5, "strokeCap": "butt"}, "encoding": {"x": {"field": "x", "type": "quantitative"}, "y": {"field": "y", "type": "quantitative"}, "x2": {"field": "x2"}, "y2": {"field": "y2"}}}
      ]
    }
  ]
}
